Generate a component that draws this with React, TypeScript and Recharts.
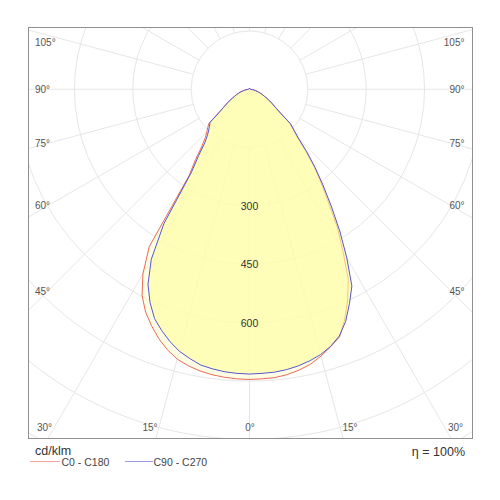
import React from 'react';
import { RadarChart, Radar, PolarGrid, PolarAngleAxis, PolarRadiusAxis } from 'recharts';

// Luminous intensity (cd/klm), gamma 0..90 step 2.5 on each half-plane
const c0c180Right = [746, 745, 744, 740, 733, 724, 710, 694, 677, 640, 597, 550, 480, 420, 352, 302, 257, 212, 172, 152, 136, 100, 82, 70, 60, 50, 42, 36, 30, 25, 20, 16, 12, 9, 6, 4, 3];
const c0c180Left = [746, 745, 743, 740, 735, 728, 718, 702, 682, 658, 632, 598, 548, 480, 270, 228, 190, 168, 155, 146, 136, 100, 82, 70, 60, 50, 42, 36, 30, 25, 20, 16, 12, 9, 6, 4, 3];
const c90c270Right = [732, 731, 730, 727, 722, 715, 706, 693, 675, 646, 608, 570, 500, 432, 366, 310, 262, 218, 178, 155, 137, 100, 82, 70, 60, 50, 42, 36, 30, 25, 20, 16, 12, 9, 6, 4, 3];
const c90c270Left = [732, 731, 729, 725, 720, 709, 697, 680, 660, 638, 605, 565, 505, 410, 260, 215, 178, 160, 148, 140, 132, 100, 82, 70, 60, 50, 42, 36, 30, 25, 20, 16, 12, 9, 6, 4, 3];
// gamma 92.5..180 step 2.5 (upper hemisphere)
const upperValues = [2, 2, 2, 2, 2, 2, 2, 2, 2, 2, 2, 2, 2, 2, 2, 2, 2, 2, 2, 2, 2, 2, 2, 2, 2, 2, 2, 2, 2, 2, 2, 2, 2, 2, 2, 2];

const ringValues = [150, 300, 450, 600, 750, 900, 1050, 1200];
const ringLabels = [300, 450, 600];
const gridAngles = [0, 15, 30, 45, 60, 75, 90, 105, 120, 135, 150, 165, 180, 195, 210, 225, 240, 255, 270, 285, 300, 315, 330, 345];
const sideLabels = ['105°', '90°', '75°', '60°', '45°'];
const bottomLabels = ['30°', '15°', '0°', '15°', '30°'];
const seriesNames = ['C0 - C180', 'C90 - C270'];
const unitLabel = 'cd/klm';
const efficiencyLabel = 'η = 100%';

const STEP = 2.5;
const COUNT = 144;

function valueAt(right: number[], left: number[], i: number): number {
  if (i <= 36) return right[i];
  if (i <= 72) return upperValues[i - 37];
  const j = COUNT - i;
  if (j >= 37) return upperValues[j - 37];
  return left[j];
}

const data = Array.from({ length: COUNT }, (_, i) => ({
  phi: i * STEP,
  red: valueAt(c0c180Right, c0c180Left, i),
  blue: valueAt(c90c270Right, c90c270Left, i),
}));

const RED = '#ec6a57';
const BLUE = '#5656d4';

const RingTick = (props: any) => {
  const { x, y, payload } = props;
  if (!ringLabels.includes(payload.value)) return <g />;
  return (
    <text x={x} y={y} textAnchor="middle" dominantBaseline="central" fontSize={10.5} fill="#333">
      {payload.value}
    </text>
  );
};

// label layout (page coordinates)
const sideY = [42, 89, 143, 205, 291];
const bottomX = [44.5, 150, 250, 350, 455.5];

// the angle axis places category i one band after the start angle
const START = -90 - STEP;

export default function App() {
  const font = '"Liberation Sans", Arial, sans-serif';
  return (
    <div style={{ position: 'absolute', left: 0, top: 0, width: 500, height: 500, background: '#fff', fontFamily: font }}>
      <div
        style={{
          position: 'absolute',
          left: 28,
          top: 27,
          width: 445,
          height: 412,
          boxSizing: 'border-box',
          border: '1px solid #8f8f8f',
          overflow: 'hidden',
        }}
      >
        <RadarChart
          width={443}
          height={410}
          data={data}
          cx={220.5}
          cy={61.3}
          innerRadius={58.35}
          outerRadius={466.8}
          startAngle={START}
          endAngle={START + 360}
          margin={{ top: 0, right: 0, bottom: 0, left: 0 }}
        >
          <PolarGrid gridType="circle" stroke="#e6e6e6" polarAngles={gridAngles.map((a) => a - 90)} />
          <PolarAngleAxis dataKey="phi" tick={false} axisLine={false} tickLine={false} />
          <PolarRadiusAxis
            angle={-90}
            type="number"
            domain={[150, 1200]}
            ticks={ringValues}
            allowDataOverflow
            axisLine={false}
            tickLine={false}
            tick={RingTick}
          />
          <Radar dataKey="red" stroke={RED} strokeWidth={1} fill="#fffcd2" fillOpacity={0.6} dot={false} isAnimationActive={false} />
          <Radar dataKey="blue" stroke={BLUE} strokeWidth={1} fill="#ffff9c" fillOpacity={0.6} dot={false} isAnimationActive={false} />
        </RadarChart>
      </div>
      <svg width={500} height={500} style={{ position: 'absolute', left: 0, top: 0, pointerEvents: 'none' }}>
        <g fontSize={10} fill="#555" dominantBaseline="central">
          {sideLabels.map((t, k) => (
            <text key={'l' + k} x={35} y={sideY[k]} textAnchor="start">{t}</text>
          ))}
          {sideLabels.map((t, k) => (
            <text key={'r' + k} x={464.5} y={sideY[k]} textAnchor="end">{t}</text>
          ))}
          {bottomLabels.map((t, k) => (
            <text key={'b' + k} x={bottomX[k]} y={427} textAnchor="middle">{t}</text>
          ))}
        </g>
        <text x={35} y={451} fontSize={12.5} fill="#333" dominantBaseline="central">{unitLabel}</text>
        <text x={465} y={451.5} fontSize={12.5} fill="#333" textAnchor="end" dominantBaseline="central">{efficiencyLabel}</text>
        <line x1={30} x2={60} y1={461.5} y2={461.5} stroke={RED} strokeOpacity={0.6} strokeWidth={1} />
        <text x={61.5} y={461.5} fontSize={10.5} fill="#444" dominantBaseline="central">{seriesNames[0]}</text>
        <line x1={125} x2={153} y1={461.5} y2={461.5} stroke={BLUE} strokeOpacity={0.6} strokeWidth={1} />
        <text x={153.5} y={461.5} fontSize={10.5} fill="#444" dominantBaseline="central">{seriesNames[1]}</text>
      </svg>
    </div>
  );
}
